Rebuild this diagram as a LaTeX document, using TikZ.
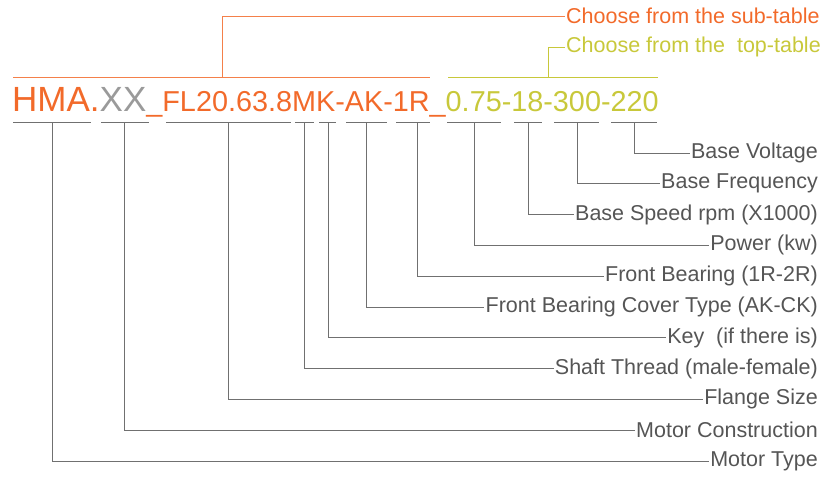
\documentclass[tikz,border=0pt]{standalone}
\usepackage{fontspec}
\setmainfont{Liberation Sans}
\definecolor{orng}{HTML}{F26A2A}
\definecolor{xgray}{HTML}{9A9A9A}
\definecolor{ylw}{HTML}{C8C83A}
\definecolor{lbl}{HTML}{555555}
\definecolor{ln}{HTML}{707070}
\begin{document}
\begin{tikzpicture}[x=1pt,y=-1pt,
  lab/.style={anchor=east,inner sep=1pt,text=lbl,font=\fontsize{21.5}{24}\selectfont},
  conn/.style={draw=ln,line width=0.9pt},
  ul/.style={draw=ln,line width=0.9pt}]
\useasboundingbox (0,0) rectangle (839,477);
% code text
\node[anchor=base west,inner sep=0pt,text=orng] (code) at (12,111)
 {\fontsize{35}{40}\selectfont HMA.\textcolor{xgray}{XX}\fontsize{28.8}{32}\selectfont\_FL20.63.8MK-AK-1R\_\textcolor{ylw}{0.75-18-300-220}};
% upper brackets
\coordinate (o1) at (13,77);
\coordinate (o2) at (430,77);
\coordinate (ot) at (222,77);
\coordinate (otop) at (222,16);
\node[anchor=west,inner sep=1pt,text=orng,font=\fontsize{21.5}{24}\selectfont] (sub) at (565,16) {Choose from the sub-table};
\draw[orng!85,line width=0.9pt] (o1) -- (o2);
\draw[orng!85,line width=0.9pt] (ot) -- (otop) -- (sub.west);
\coordinate (y1) at (448,77);
\coordinate (y2) at (658,77);
\coordinate (yt) at (548,77);
\coordinate (ytop) at (548,47);
\node[anchor=west,inner sep=1pt,text=ylw,font=\fontsize{21.5}{24}\selectfont] (top) at (565,47) {Choose from the\ \ top-table};
\draw[ylw,line width=0.9pt] (y1) -- (y2);
\draw[ylw,line width=0.9pt] (yt) -- (ytop) -- (top.west);
% labels
\node[lab] (l1) at (819,153) {Base Voltage};
\node[lab] (l2) at (819,183.8) {Base Frequency};
\node[lab] (l3) at (819,214.6) {Base Speed rpm (X1000)};
\node[lab] (l4) at (819,245.4) {Power (kw)};
\node[lab] (l5) at (819,276.2) {Front Bearing (1R-2R)};
\node[lab] (l6) at (819,307) {Front Bearing Cover Type (AK-CK)};
\node[lab] (l7) at (819,337.8) {Key\ \ (if there is)};
\node[lab] (l8) at (819,368.6) {Shaft Thread (male-female)};
\node[lab] (l9) at (819,399.4) {Flange Size};
\node[lab] (l10) at (819,430.2) {Motor Construction};
\node[lab] (l11) at (819,461) {Motor Type};
% underline segments and ticks
\foreach \a/\b/\t/\l in {13/91/52/l11, 101/149/124/l10, 166/291/228/l9, 295/314/304/l8, 319/336/328/l7, 346/387/366/l6, 396/430/417/l5, 447/501/474/l4, 514/542/528/l3, 554/599/577/l2, 611/657/634/l1}{
  \coordinate (s\l) at (\a,122);
  \coordinate (e\l) at (\b,122);
  \coordinate (t\l) at (\t,122);
  \draw[ul] (s\l) -- (e\l);
  \draw[conn] (t\l) |- (\l.west);
}
\end{tikzpicture}
\end{document}
